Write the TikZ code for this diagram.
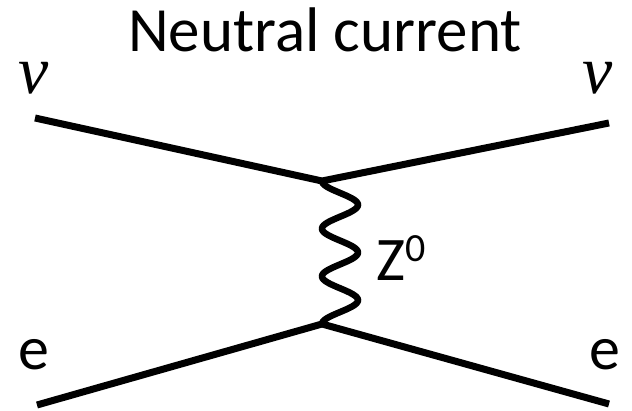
\documentclass[tikz,border=0pt]{standalone}
\usepackage{fontspec}
\setmainfont{Carlito}
\newfontfamily\grkfont{Liberation Serif}
\usetikzlibrary{positioning}
\tikzset{
  fermion/.style={line width=7pt},
  boson/.style={line width=6.5pt, line cap=round},
  lbl/.style={font=\fontsize{62}{68}\selectfont, inner sep=0pt, anchor=base},
}
\begin{document}
\begin{tikzpicture}[x=1pt, y=-1pt]
  \useasboundingbox (0,0) rectangle (632,411);
  % title
  \node[lbl, font=\fontsize{63}{70}\selectfont] (title) at (325,52) {Neutral current};
  % vertices
  \coordinate (v1) at (322,181);
  \coordinate (v2) at (322,324);
  % external legs
  \coordinate (nuin) at (35,118);
  \coordinate (nuout) at (609,123);
  \coordinate (ein) at (37,405);
  \coordinate (eout) at (609,404);
  \draw[fermion] (nuin) -- (v1) -- (nuout);
  \draw[fermion] (ein) -- (v2) -- (eout);
  % Z boson (3 periods from v1 to v2)
  \draw[boson] plot[domain=181:324, samples=120, smooth]
    ({340-18*cos(7.5524*(\x-181))}, \x);
  % labels
  \node[lbl, font=\fontsize{68}{70}\selectfont] (nuL) at (34,94) {\grkfont\itshape ν};
  \node[lbl, font=\fontsize{68}{70}\selectfont] (nuR) at (598,94) {\grkfont\itshape ν};
  \node[lbl] (eL) at (34,370) {e};
  \node[lbl] (eR) at (605,370) {e};
  \node[lbl, anchor=base west] (zlab) at (376,281)
    {Z\raisebox{19pt}{\fontsize{40}{40}\selectfont 0}};
\end{tikzpicture}
\end{document}
